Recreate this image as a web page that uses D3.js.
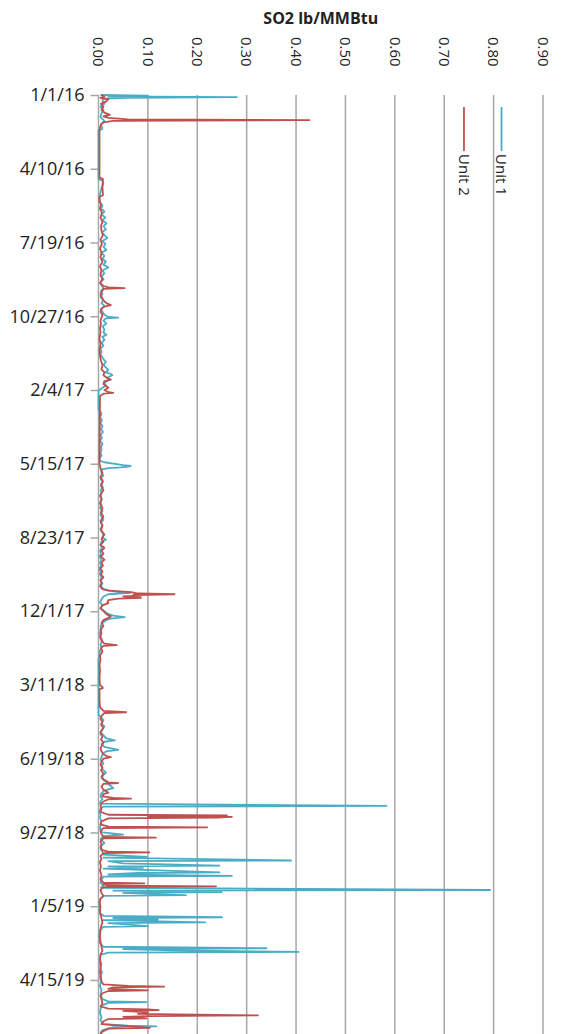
<!DOCTYPE html>
<html>
<head>
<meta charset="utf-8">
<script src="https://cdn.jsdelivr.net/npm/d3@7"></script>
<style>
  body { margin: 0; background: #fff; }
  text { font-family: "Open Sans", sans-serif; fill: #222; }
</style>
</head>
<body>
<svg id="so2_chart"></svg>
<script>
// days since 1/1/16, SO2 lb/MMBtu
const startDate = new Date(2016, 0, 1);
const endDate = new Date(2019, 5, 30);

const dateTicks = ["1/1/16", "4/10/16", "7/19/16", "10/27/16", "2/4/17", "5/15/17", "8/23/17",
  "12/1/17", "3/11/18", "6/19/18", "9/27/18", "1/5/19", "4/15/19"];
const valueTicks = [0, 0.1, 0.2, 0.3, 0.4, 0.5, 0.6, 0.7, 0.8, 0.9];
const seriesNames = ["Unit 1", "Unit 2"];

const unit1 = [
  [0, .004], [1, .10], [2, .02], [3, .28], [4, .06], [5, .01], [8, .008], [12, .012], [16, .004],
  [20, .01], [25, .006], [30, .004], [35, .012], [40, .005], [46, .008], [48, 0], [114, 0],
  [116, .008], [120, .01], [126, .006], [132, .004], [138, .002], [146, .003], [150, .008],
  [154, .005], [158, .012], [162, .006], [166, .014], [170, .008], [174, .016], [178, .01],
  [182, .015], [186, .007], [190, .012], [194, .018], [198, .008], [202, .014], [206, .01],
  [210, .016], [214, .006], [218, .012], [222, .008], [226, .015], [230, .01], [234, .02],
  [238, .008], [242, .012], [246, .006], [250, .01], [254, .004], [258, .006], [262, .01],
  [266, .005], [270, .008], [274, .004], [278, .01], [282, .006], [286, .012], [290, .005],
  [294, .008], [298, .012], [301, .02], [302, .04], [303, .015], [306, .01], [310, .016],
  [314, .008], [318, .012], [322, .01], [325, .016], [328, .008], [332, .012], [336, .006],
  [340, .01], [344, .004], [348, .006], [352, .004], [356, .008], [360, .012], [362, .015],
  [366, .01], [370, .016], [373, .02], [376, .014], [378, .024], [380, .028], [383, .018],
  [386, .022], [390, .012], [394, .015], [398, .006], [401, 0], [427, 0], [429, .004],
  [433, .006], [437, .003], [441, .007], [445, .004], [449, .008], [453, .005], [457, .009],
  [461, .004], [465, .007], [469, .003], [473, .008], [477, .005], [481, .006], [485, .004],
  [489, .006], [493, .002], [496, .003], [498, .012], [500, .03], [502, .05], [503, .065],
  [504, .06], [505, .045], [506, .02], [508, .005], [512, .006], [516, .01], [520, .004],
  [524, .008], [528, .005], [532, .009], [536, .004], [540, .006], [544, .003], [548, .007],
  [552, .004], [556, .006], [560, .003], [564, .008], [568, .004], [572, .006], [576, .01],
  [580, .005], [584, .008], [588, .004], [592, .006], [596, .01], [600, .008], [603, .015],
  [606, .006], [610, .004], [614, .007], [618, .003], [622, .005], [626, .002], [630, .006],
  [634, .003], [638, .005], [642, .002], [646, .004], [650, .003], [654, .006], [658, .004],
  [662, .008], [666, .005], [670, .01], [673, .03], [675, .065], [677, .02], [680, .01],
  [684, .006], [688, .003], [692, .008], [696, .004], [700, .012], [704, .02], [706, .03],
  [708, .053], [710, .025], [712, .015], [715, .01], [720, .004], [725, .006], [730, .002],
  [735, .005], [740, .008], [745, .004], [750, .006], [755, .002], [760, .003], [765, 0],
  [841, 0], [843, .005], [848, .01], [852, .006], [856, .012], [860, .008], [864, .004],
  [868, .01], [872, .015], [875, .033], [877, .012], [880, .006], [884, .012], [888, .04],
  [890, .015], [894, .008], [898, .006], [902, .004], [906, .01], [910, .006], [914, .008],
  [919, .015], [922, .01], [926, .006], [930, .012], [934, .02], [937, .025], [940, .03],
  [943, .012], [947, .006], [951, .004], [955, .008], [958, .004], [961, .003], [964, .583],
  [965, .01], [968, .004], [972, .002], [976, .004], [980, .003], [985, .006], [990, .004],
  [995, .003], [1000, .008], [1003, .05], [1005, .01], [1009, .004], [1014, .012], [1018, .006],
  [1022, .004], [1026, .008], [1030, .01], [1033, .098], [1034, .01], [1038, .39], [1039, .02],
  [1042, .05], [1045, .245], [1046, .02], [1048, .09], [1049, .01], [1054, .245], [1055, .08],
  [1057, .02], [1059, .27], [1060, .01], [1064, .006], [1068, .004], [1072, .01], [1075, .005],
  [1078, .793], [1079, .03], [1081, .249], [1082, .05], [1084, .12], [1085, .177], [1086, .01],
  [1090, .004], [1095, .002], [1100, .003], [1105, .002], [1110, .004], [1113, .01], [1115, .25],
  [1116, .03], [1118, .12], [1119, .01], [1122, .216], [1123, .02], [1127, .10], [1128, .01],
  [1132, .003], [1140, .002], [1150, .003], [1155, .01], [1157, .34], [1158, .05], [1160, .15],
  [1162, .405], [1163, .02], [1166, .004], [1172, .003], [1178, .006], [1184, .004], [1190, .007],
  [1196, .003], [1202, .005], [1208, .003], [1214, .006], [1220, .004], [1226, .008], [1229, .02],
  [1230, .097], [1231, .02], [1235, .006], [1240, .004], [1245, .003], [1250, .006], [1255, .004],
  [1260, .01], [1262, .06], [1263, .117], [1264, .03], [1268, .008], [1272, .004], [1276, .006]
];

const unit2 = [
  [0, .006], [2, .012], [4, .004], [6, .02], [9, .015], [12, .005], [16, .01], [20, .006],
  [24, .012], [27, .023], [29, .01], [31, .02], [33, .06], [34, .427], [35, .03], [37, .01],
  [40, .005], [44, .003], [48, .002], [112, .002], [114, .009], [124, .008], [136, .009],
  [138, .002], [144, .002], [148, .005], [154, .003], [160, .007], [166, .004], [172, .008],
  [178, .005], [184, .006], [190, .009], [196, .004], [202, .007], [208, .003], [214, .006],
  [220, .004], [226, .008], [232, .003], [238, .006], [244, .004], [250, .008], [255, .003],
  [259, .01], [261, .02], [262, .053], [263, .01], [267, .006], [271, .004], [276, .008],
  [280, .012], [283, .018], [285, .025], [287, .012], [290, .006], [294, .004], [298, .008],
  [302, .006], [306, .004], [310, .005], [316, .003], [322, .004], [330, .002], [338, .004],
  [346, .002], [354, .003], [360, .005], [366, .008], [372, .006], [376, .012], [380, .01],
  [384, .018], [386, .025], [388, .012], [392, .01], [395, .016], [397, .02], [400, .012],
  [403, .02], [404, .03], [405, .01], [408, .003], [500, .002], [506, .004], [512, .008],
  [518, .004], [524, .009], [530, .005], [536, .01], [542, .004], [548, .006], [554, .003],
  [560, .008], [566, .005], [572, .01], [578, .004], [584, .008], [590, .005], [596, .012],
  [602, .006], [606, .01], [610, .004], [614, .012], [618, .006], [622, .01], [626, .005],
  [630, .012], [634, .006], [638, .009], [642, .004], [646, .008], [650, .005], [654, .01],
  [658, .004], [662, .006], [666, .003], [670, .008], [672, .02], [674, .066], [676, .08],
  [677, .154], [678, .07], [679, .086], [680, .05], [682, .086], [683, .04], [685, .02],
  [687, .018], [689, .02], [692, .008], [696, .004], [700, .01], [704, .016], [707, .025],
  [709, .02], [712, .01], [716, .006], [720, .01], [725, .004], [730, .006], [735, .003],
  [740, .006], [744, .012], [746, .037], [747, .01], [750, .005], [755, .008], [760, .003],
  [766, .004], [772, .002], [780, .003], [790, .002], [800, .003], [803, .008], [804, .009],
  [806, .002], [820, .002], [830, .003], [835, .01], [837, .056], [838, .012], [842, .006],
  [846, .004], [850, .008], [854, .005], [858, .01], [862, .006], [866, .004], [870, .008],
  [874, .005], [878, .01], [882, .007], [886, .004], [890, .006], [894, .01], [897, .018],
  [898, .025], [900, .01], [904, .006], [908, .004], [912, .008], [916, .005], [920, .01],
  [924, .006], [928, .01], [932, .02], [933, .04], [934, .01], [938, .006], [942, .01],
  [945, .018], [946, .02], [948, .01], [951, .008], [953, .03], [954, .066], [955, .02],
  [958, .01], [961, .006], [964, .004], [968, .006], [972, .004], [976, .02], [977, .26],
  [978, .1], [979, .27], [980, .24], [981, .02], [985, .006], [989, .004], [992, .02],
  [993, .22], [994, .01], [998, .004], [1002, .006], [1006, .01], [1007, .116], [1008, .01],
  [1012, .004], [1016, .006], [1020, .004], [1024, .008], [1026, .02], [1027, .103], [1028, .01],
  [1032, .004], [1036, .006], [1040, .003], [1046, .005], [1052, .003], [1058, .006], [1064, .004],
  [1068, .01], [1069, .093], [1070, .01], [1072, .02], [1073, .238], [1074, .01], [1078, .004],
  [1082, .006], [1086, .01], [1090, .004], [1096, .002], [1100, .004], [1108, .003], [1116, .006],
  [1122, .008], [1128, .005], [1134, .004], [1140, .003], [1148, .004], [1155, .006], [1160, .008],
  [1166, .004], [1174, .003], [1182, .004], [1190, .003], [1196, .005], [1202, .006], [1206, .01],
  [1208, .06], [1209, .133], [1210, .03], [1212, .02], [1214, .1], [1215, .02], [1218, .008],
  [1222, .004], [1226, .006], [1232, .008], [1236, .004], [1239, .02], [1240, .1], [1241, .122],
  [1242, .05], [1244, .1], [1246, .08], [1248, .323], [1249, .1], [1250, .05], [1252, .097],
  [1253, .02], [1256, .01], [1260, .006], [1265, .104], [1266, .02], [1270, .008], [1274, .004],
  [1276, .006]
];

const svg_width = 566, svg_height = 1034;
const margin = { top: 95, left: 98.5, right: 23 };
const colors = ["#4bacc6", "#c0504d"];
const gridColor = "#a6a6a6";

const svg = d3.select("#so2_chart")
  .attr("width", svg_width)
  .attr("height", svg_height);

const x = d3.scaleLinear().domain([0, 0.9]).range([margin.left, svg_width - margin.right]);
const y = d3.scaleTime().domain([startDate, endDate]).range([margin.top, 1036]);
const parseTick = d3.timeParse("%m/%d/%y");
const dayDate = d => d3.timeDay.offset(startDate, d);

// title
svg.append("text")
  .attr("x", (x(0) + x(0.9)) / 2)
  .attr("y", 24)
  .attr("text-anchor", "middle")
  .attr("font-size", 16)
  .attr("font-weight", "bold")
  .text("SO2 lb/MMBtu");

// vertical grid lines
svg.append("g")
  .selectAll("line")
  .data(valueTicks)
  .join("line")
  .attr("x1", d => x(d)).attr("x2", d => x(d))
  .attr("y1", margin.top).attr("y2", svg_height)
  .attr("stroke", gridColor)
  .attr("stroke-width", 1.5);

// value labels, rotated
svg.append("g")
  .selectAll("text")
  .data(valueTicks)
  .join("text")
  .attr("transform", d => `translate(${x(d)},37) rotate(90)`)
  .attr("dy", "0.35em")
  .attr("font-size", 15)
  .text(d3.format(".2f"));

// date axis
const yAxis = svg.append("g")
  .attr("transform", `translate(${margin.left},0)`)
  .call(d3.axisLeft(y)
    .tickValues(dateTicks.map(parseTick))
    .tickFormat(d3.timeFormat("%-m/%-d/%y"))
    .tickSize(8)
    .tickPadding(6));
yAxis.select(".domain").remove();
yAxis.selectAll("line").attr("stroke", gridColor).attr("stroke-width", 1.5);
yAxis.selectAll("text")
  .attr("font-family", "Open Sans, sans-serif")
  .attr("font-size", 18)
  .attr("fill", "#222");

const line = d3.line()
  .x(d => x(d[1]))
  .y(d => y(dayDate(d[0])));

[unit1, unit2].forEach((series, i) => {
  svg.append("path")
    .datum(series)
    .attr("fill", "none")
    .attr("stroke", colors[i])
    .attr("stroke-width", 1.8)
    .attr("stroke-linejoin", "round")
    .attr("d", line);
});

// legend, rotated like the axis labels
const legendX = [x(0.816), x(0.74)];
seriesNames.forEach((name, i) => {
  const g = svg.append("g").attr("transform", `translate(${legendX[i]},107)`);
  g.append("line")
    .attr("x1", 0).attr("x2", 0)
    .attr("y1", 0).attr("y2", 44)
    .attr("stroke", colors[i])
    .attr("stroke-width", 1.8);
  g.append("text")
    .attr("transform", "translate(0,47) rotate(90)")
    .attr("dy", "0.35em")
    .attr("font-size", 15)
    .text(name);
});
</script>
</body>
</html>
